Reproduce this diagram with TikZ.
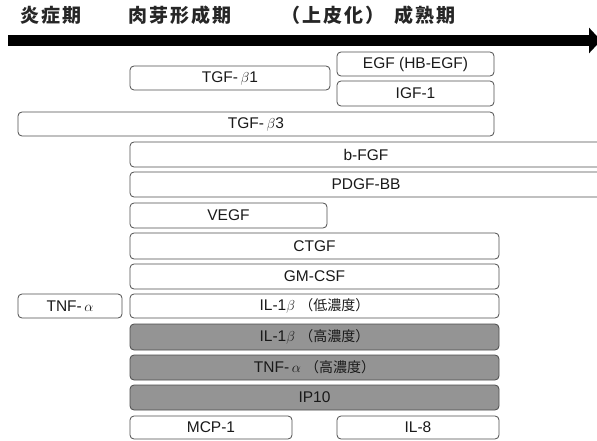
\documentclass[tikz,border=0pt]{standalone}
\usepackage{fontspec}
\setmainfont{Liberation Sans}
\newfontfamily\jp{Noto Sans CJK JP}
\newfontfamily\jph[LetterSpace=10]{Noto Sans CJK JP}
\usetikzlibrary{arrows.meta}
\newcommand\mybox[7][box]{%
  \node[#1, minimum width={#5-#3}, minimum height={#6-#4}] (#2) at ({(#3+#5)/2},{(#4+#6)/2}) {#7};}
\newcommand\jpsmall[1]{{\jp\fontsize{14}{16}\selectfont #1}}
\begin{document}
\begin{tikzpicture}[x=1pt,y=-1pt,
  box/.style={draw=black!70, line width=0.8pt, rounded corners=4pt, inner sep=0pt,
    font=\fontsize{15.5}{18}\selectfont, text=black!90},
  darkbox/.style={box, fill=black!42},
  phase/.style={font=\jph\bfseries\fontsize{19}{22}\selectfont, text=black!85, inner sep=0pt},
  timeline/.style={line width=11pt, -{Triangle[length=12pt, width=25pt]}}]
\useasboundingbox (0,0) rectangle (597,441);
% phases
\node[phase] (p1) at (51,15) {炎症期};
\node[phase] (p2) at (180,15) {肉芽形成期};
\node[phase] (p3) at (333,15) {（上皮化）};
\node[phase] (p4) at (425,15) {成熟期};
% time axis
\coordinate (tl) at (8,40.5);
\coordinate (tr) at (601,40.5);
\draw[timeline] (tl) -- (tr);
% factors
\mybox{tgfb1}{130}{66}{330}{90}{TGF-\,$\beta$1}
\mybox{egf}{337}{52}{494}{76}{EGF (HB-EGF)}
\mybox{igf}{337}{81}{494}{106}{IGF-1}
\mybox{tgfb3}{18}{112}{494}{136}{TGF-\,$\beta$3}
\mybox{bfgf}{130}{142}{602}{167}{b-FGF}
\mybox{pdgf}{130}{172}{602}{197}{PDGF-BB}
\mybox{vegf}{130}{203}{327}{228}{VEGF}
\mybox{ctgf}{130}{233}{499}{259}{CTGF}
\mybox{gmcsf}{130}{264}{499}{289}{GM-CSF}
\mybox{tnfa}{18}{294}{122}{318}{TNF-\,$\alpha$}
\mybox{illow}{130}{294}{499}{318}{IL-1$\beta$\ \jpsmall{（低濃度）}}
\mybox[darkbox]{ilhigh}{130}{324}{499}{350}{IL-1$\beta$\ \jpsmall{（高濃度）}}
\mybox[darkbox]{tnfhigh}{130}{355}{499}{380}{TNF-\,$\alpha$\ \jpsmall{（高濃度）}}
\mybox[darkbox]{ip}{130}{385}{499}{410}{IP10}
\mybox{mcp}{130}{416}{292}{439}{MCP-1}
\mybox{ileight}{337}{416}{499}{439}{IL-8}
\end{tikzpicture}
\end{document}
